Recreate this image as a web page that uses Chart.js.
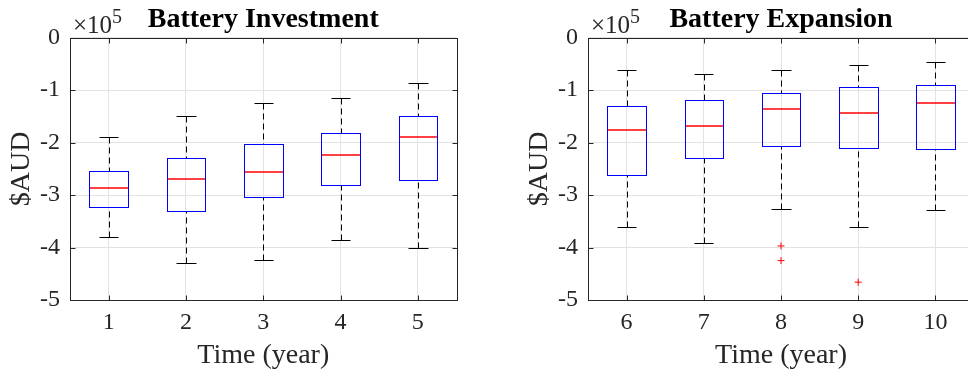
<!DOCTYPE html>
<html>
<head>
<meta charset="utf-8">
<script src="https://cdn.jsdelivr.net/npm/chart.js@4.4.1/dist/chart.umd.min.js"></script>
<style>
  html, body { margin: 0; padding: 0; background: #fff; overflow: hidden; width: 968px; height: 376px; }
  .panel { position: absolute; top: 0; height: 376px; }
  #investPanel { left: 0; width: 484px; }
  #expansionPanel { left: 484px; width: 510px; }
</style>
</head>
<body>
<div class="panel" id="investPanel"><canvas id="investChart" width="484" height="376"></canvas></div>
<div class="panel" id="expansionPanel"><canvas id="expansionChart" width="510" height="376"></canvas></div>
<script>
// Battery investment, years 1-5 (values in $AUD)
const investYears = [1, 2, 3, 4, 5];
const investWhiskerHigh = [-190000, -150000, -124000, -116000, -86000];
const investQ3 = [-255000, -230000, -203000, -181000, -150000];
const investMedian = [-286000, -270000, -256000, -223000, -190000];
const investQ1 = [-323000, -331000, -303000, -280000, -271000];
const investWhiskerLow = [-380000, -430000, -424000, -385000, -401000];
const investOutlierX = [];
const investOutlierY = [];

// Battery expansion, years 6-10
const expansionYears = [6, 7, 8, 9, 10];
const expansionWhiskerHigh = [-62000, -69000, -62000, -52000, -47000];
const expansionQ3 = [-131000, -118000, -105000, -94000, -91000];
const expansionMedian = [-176000, -168000, -136000, -143000, -124000];
const expansionQ1 = [-262000, -230000, -207000, -211000, -213000];
const expansionWhiskerLow = [-360000, -391000, -326000, -361000, -329000];
const expansionOutlierX = [8, 8, 9];
const expansionOutlierY = [-397000, -425000, -466000];

// Shared y ticks
const yTicks = [-500000, -400000, -300000, -200000, -100000, 0];

const FONT = '"Liberation Serif", "Times New Roman", serif';
const AXIS_COLOR = '#262626';

// Draws the boxes/whiskers through the chart scales, plus frame, inward ticks and exponent
const boxPlotPlugin = {
    id: 'boxPlot',
    beforeDatasetsDraw(chart, args, opts) {
        const { ctx, scales: { x, y } } = chart;
        const px = v => Math.round(v) + 0.5;
        const line = (x1, y1, x2, y2) => {
            ctx.beginPath();
            ctx.moveTo(x1, y1);
            ctx.lineTo(x2, y2);
            ctx.stroke();
        };
        ctx.save();
        ctx.lineWidth = 1;
        opts.years.forEach((year, i) => {
            const cx = px(x.getPixelForValue(year));
            const left = px(x.getPixelForValue(year - 0.25));
            const right = px(x.getPixelForValue(year + 0.25));
            const capL = px(x.getPixelForValue(year - 0.125));
            const capR = px(x.getPixelForValue(year + 0.125));
            const hi = px(y.getPixelForValue(opts.high[i]));
            const q3 = px(y.getPixelForValue(opts.q3[i]));
            const med = Math.round(y.getPixelForValue(opts.median[i]));
            const q1 = px(y.getPixelForValue(opts.q1[i]));
            const lo = px(y.getPixelForValue(opts.low[i]));

            // whiskers
            ctx.lineWidth = 1;
            ctx.strokeStyle = '#000000';
            ctx.setLineDash([6, 4]);
            line(cx, hi, cx, q3);
            line(cx, lo, cx, q1);
            ctx.setLineDash([]);
            line(capL, hi, capR, hi);
            line(capL, lo, capR, lo);

            // box
            ctx.strokeStyle = '#0000ff';
            ctx.strokeRect(left, q3, right - left, q1 - q3);

            // median
            ctx.strokeStyle = '#ff0000';
            ctx.lineWidth = 1.5;
            line(left + 0.5, med, right - 0.5, med);
        });
        ctx.restore();
    },
    afterDraw(chart) {
        const { ctx, chartArea: a, scales: { x, y } } = chart;
        const px = v => Math.round(v) + 0.5;
        const L = px(a.left), R = px(a.right), T = px(a.top), B = px(a.bottom);
        ctx.save();
        ctx.strokeStyle = AXIS_COLOR;
        ctx.lineWidth = 1;
        ctx.strokeRect(L, T, R - L, B - T);

        // inward tick marks on all four sides
        ctx.beginPath();
        x.ticks.forEach(t => {
            const tx = px(x.getPixelForValue(t.value));
            ctx.moveTo(tx, B); ctx.lineTo(tx, B - 5);
            ctx.moveTo(tx, T); ctx.lineTo(tx, T + 5);
        });
        y.ticks.forEach(t => {
            const ty = px(y.getPixelForValue(t.value));
            ctx.moveTo(L, ty); ctx.lineTo(L + 5, ty);
            ctx.moveTo(R, ty); ctx.lineTo(R - 5, ty);
        });
        ctx.stroke();

        // exponent label
        ctx.fillStyle = AXIS_COLOR;
        ctx.textBaseline = 'alphabetic';
        ctx.textAlign = 'left';
        ctx.font = '25px ' + FONT;
        ctx.fillText('\u00d710', a.left + 3, a.top - 4.5);
        const w = ctx.measureText('\u00d710').width;
        ctx.font = '20px ' + FONT;
        ctx.fillText('5', a.left + 3 + w, a.top - 14.5);
        ctx.restore();
    }
};

function makeChart(canvasId, title, years, high, q3, median, q1, low, outX, outY, padLeft, padRight) {
    const ctx = document.getElementById(canvasId).getContext('2d');
    return new Chart(ctx, {
        type: 'scatter',
        data: {
            datasets: [{
                data: outX.map((v, i) => ({ x: v, y: outY[i] })),
                pointStyle: 'cross',
                radius: 3.5,
                borderColor: '#ff0000',
                borderWidth: 1
            }]
        },
        options: {
            responsive: false,
            animation: false,
            layout: { padding: { left: padLeft, right: padRight, top: 0, bottom: 0 } },
            scales: {
                x: {
                    type: 'linear',
                    min: years[0] - 0.5,
                    max: years[years.length - 1] + 0.5,
                    afterBuildTicks: s => { s.ticks = years.map(v => ({ value: v })); },
                    afterFit: s => { s.height = 76; },
                    grid: { color: '#e3e3e3', drawTicks: false },
                    border: { display: false },
                    ticks: { color: AXIS_COLOR, font: { family: FONT, size: 24 }, padding: 8, maxRotation: 0, autoSkip: false },
                    title: { display: true, text: 'Time (year)', color: AXIS_COLOR, font: { family: FONT, size: 28, lineHeight: 1 }, padding: { top: 0, bottom: 6 } }
                },
                y: {
                    min: yTicks[0],
                    max: yTicks[yTicks.length - 1],
                    afterBuildTicks: s => { s.ticks = yTicks.map(v => ({ value: v })); },
                    afterFit: s => { s.width = 70; },
                    grid: { color: '#e3e3e3', drawTicks: false },
                    border: { display: false },
                    ticks: { color: AXIS_COLOR, font: { family: FONT, size: 24 }, padding: 10, callback: v => String(v / 100000) },
                    title: { display: true, text: '$AUD', color: AXIS_COLOR, font: { family: FONT, size: 28, lineHeight: 1 }, padding: { top: 8, bottom: 0 } }
                }
            },
            plugins: {
                legend: { display: false },
                tooltip: { enabled: false },
                title: {
                    display: true,
                    text: title,
                    fullSize: false,
                    color: '#000000',
                    font: { family: FONT, size: 28, weight: 'bold', lineHeight: 1.2 },
                    padding: { top: 3, bottom: 1 }
                },
                boxPlot: { years, high, q3, median, q1, low }
            }
        },
        plugins: [boxPlotPlugin]
    });
}

makeChart('investChart', 'Battery Investment', investYears, investWhiskerHigh, investQ3, investMedian,
    investQ1, investWhiskerLow, investOutlierX, investOutlierY, 0, 27.5);
makeChart('expansionChart', 'Battery Expansion', expansionYears, expansionWhiskerHigh, expansionQ3, expansionMedian,
    expansionQ1, expansionWhiskerLow, expansionOutlierX, expansionOutlierY, 34, 20);
</script>
</body>
</html>
